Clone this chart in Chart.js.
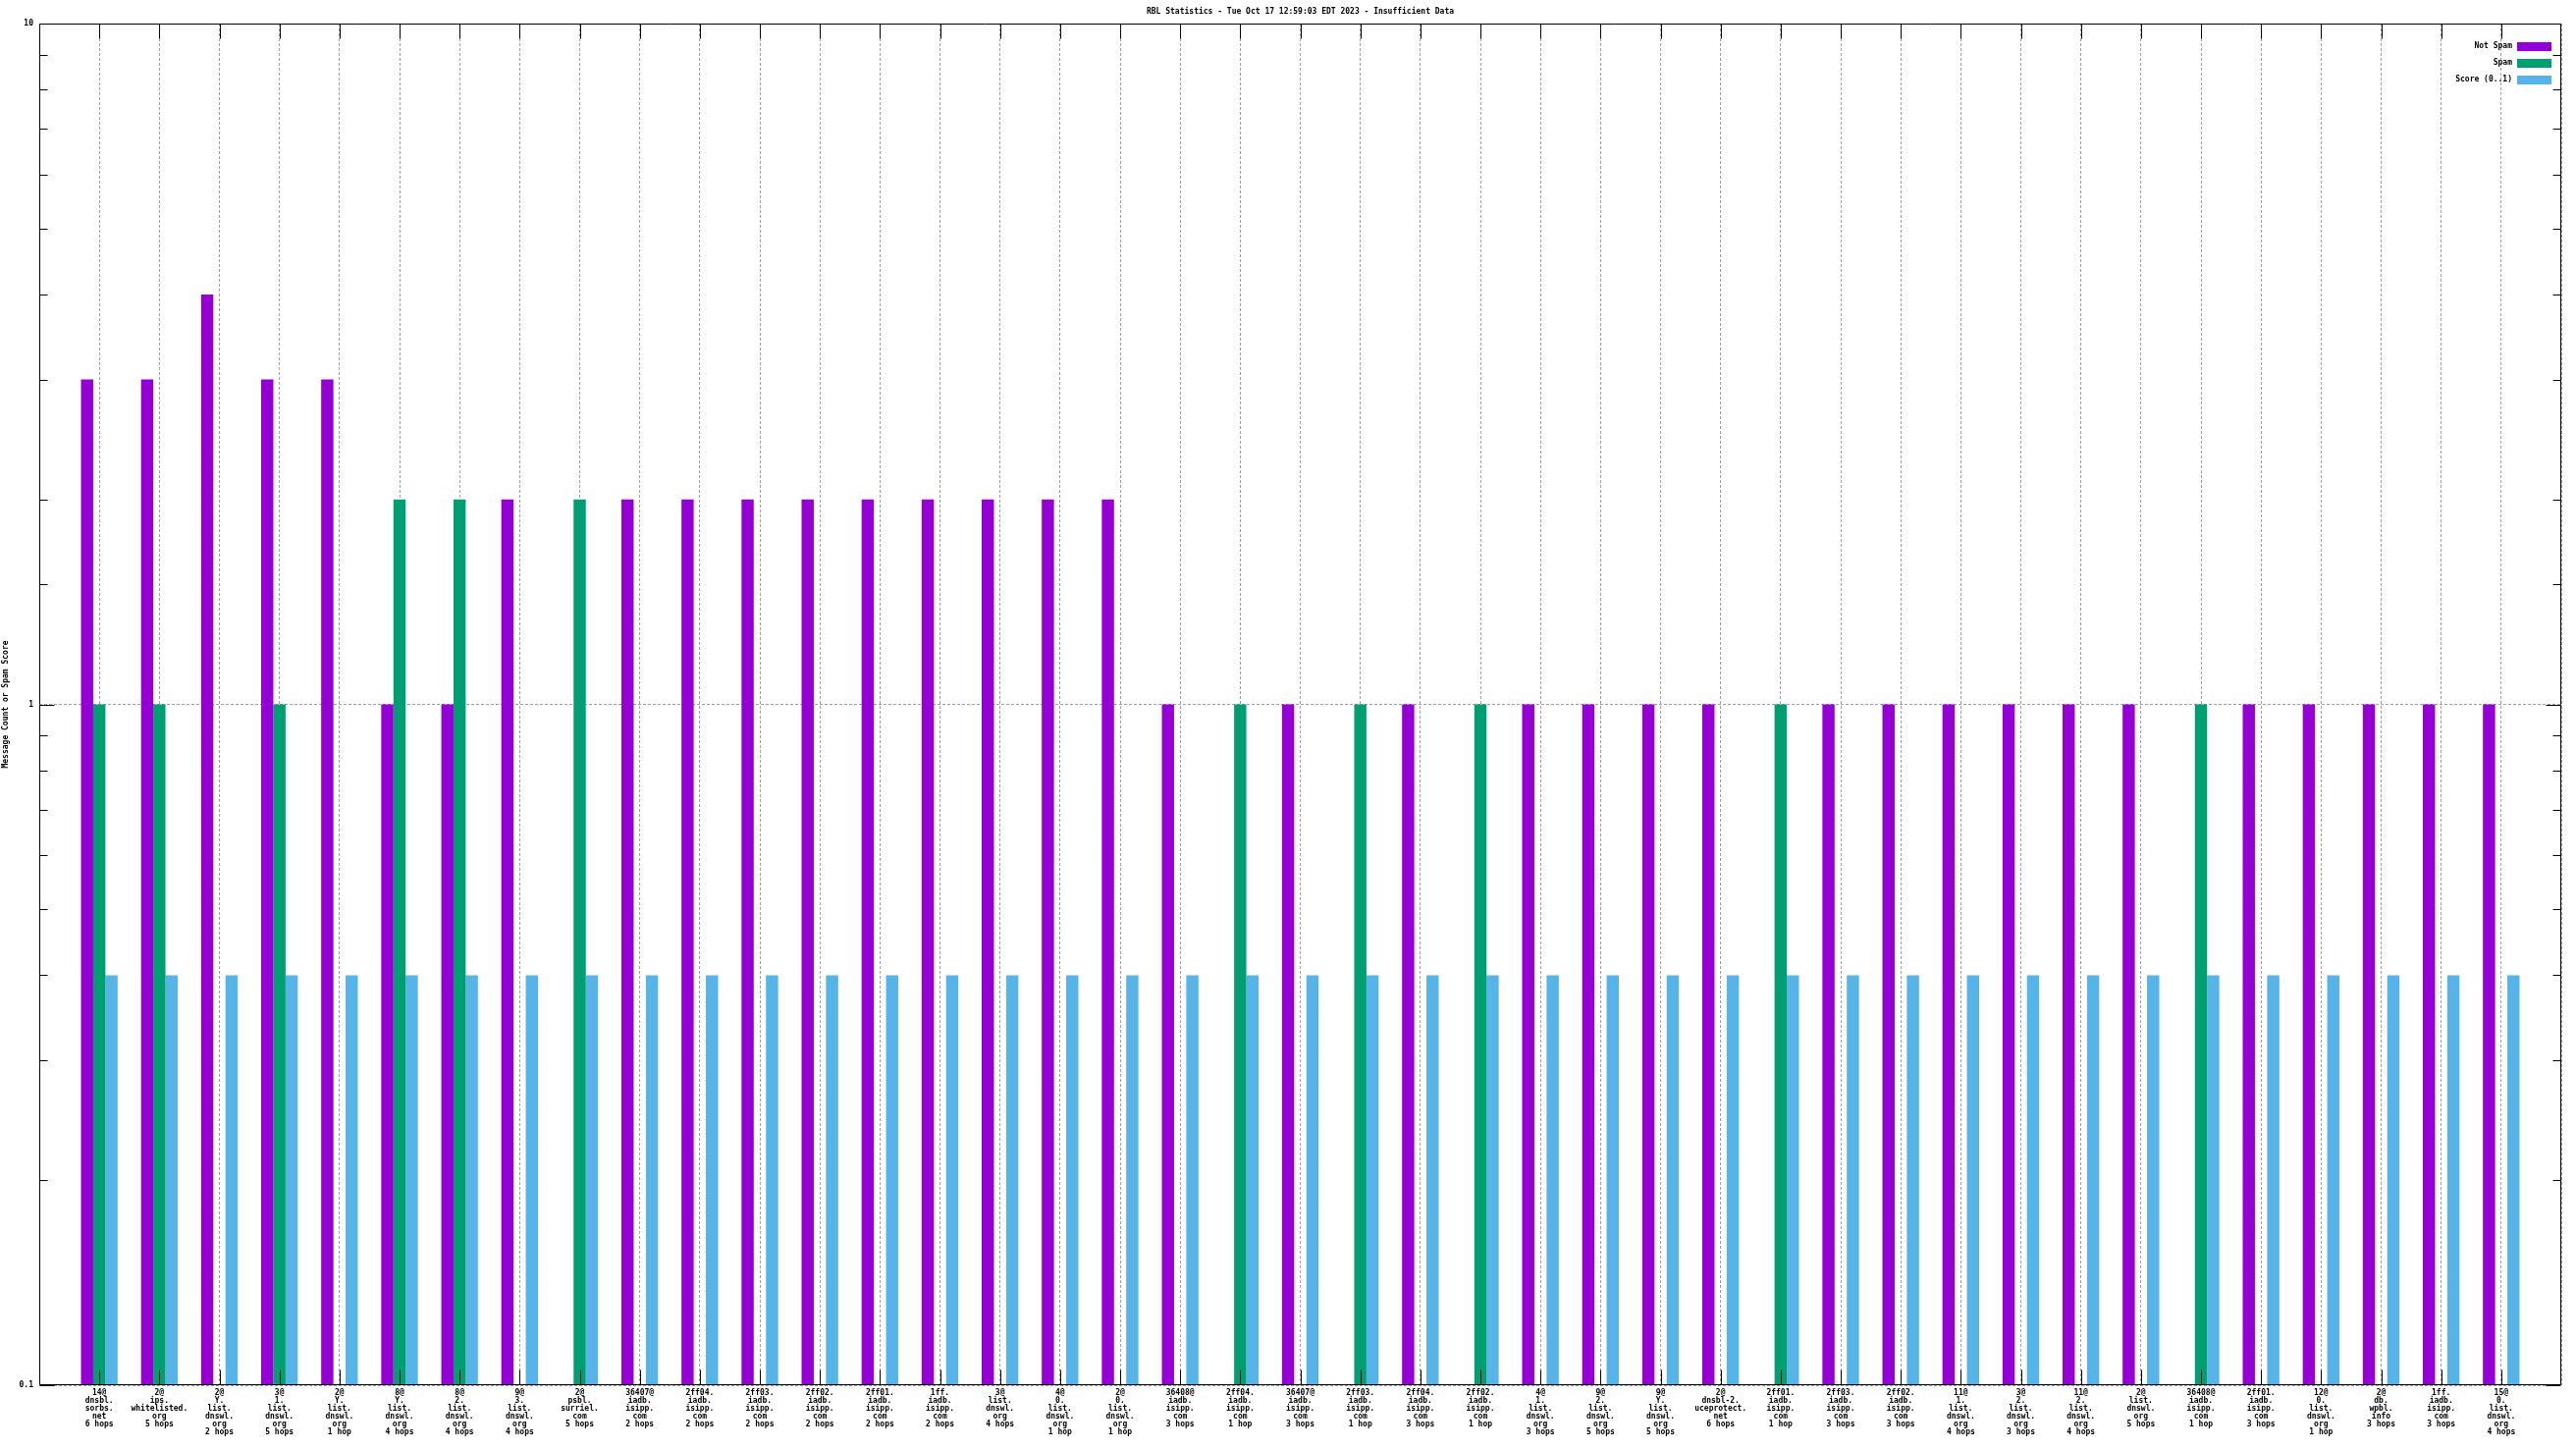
<!DOCTYPE html>
<html><head><meta charset="utf-8">
<script src="https://cdn.jsdelivr.net/npm/chart.js@4/dist/chart.umd.min.js"></script>
<style>html,body{margin:0;padding:0;background:#fff}canvas{display:block}</style>
</head><body>
<canvas id="c" width="2624" height="1476"></canvas>
<script>
const chartTitle = 'RBL Statistics - Tue Oct 17 12:59:03 EDT 2023 - Insufficient Data';
const yTitle = 'Message Count or Spam Score';
const seriesNames = ['Not Spam', 'Spam', 'Score (0..1)'];
const seriesColors = ['#9400d3', '#009e73', '#56b4e9'];
const yTickLabels = ['0.1', '1', '10'];
const categories = [
  "14@\ndnsbl.\nsorbs.\nnet\n6 hops",
  "2@\nips.\nwhitelisted.\norg\n5 hops",
  "2@\nY.\nlist.\ndnswl.\norg\n2 hops",
  "3@\n1.\nlist.\ndnswl.\norg\n5 hops",
  "2@\nY.\nlist.\ndnswl.\norg\n1 hop",
  "8@\nY.\nlist.\ndnswl.\norg\n4 hops",
  "8@\n2.\nlist.\ndnswl.\norg\n4 hops",
  "9@\n3.\nlist.\ndnswl.\norg\n4 hops",
  "2@\npsbl.\nsurriel.\ncom\n5 hops",
  "36407@\niadb.\nisipp.\ncom\n2 hops",
  "2ff04.\niadb.\nisipp.\ncom\n2 hops",
  "2ff03.\niadb.\nisipp.\ncom\n2 hops",
  "2ff02.\niadb.\nisipp.\ncom\n2 hops",
  "2ff01.\niadb.\nisipp.\ncom\n2 hops",
  "1ff.\niadb.\nisipp.\ncom\n2 hops",
  "3@\nlist.\ndnswl.\norg\n4 hops",
  "4@\n0.\nlist.\ndnswl.\norg\n1 hop",
  "2@\n0.\nlist.\ndnswl.\norg\n1 hop",
  "36408@\niadb.\nisipp.\ncom\n3 hops",
  "2ff04.\niadb.\nisipp.\ncom\n1 hop",
  "36407@\niadb.\nisipp.\ncom\n3 hops",
  "2ff03.\niadb.\nisipp.\ncom\n1 hop",
  "2ff04.\niadb.\nisipp.\ncom\n3 hops",
  "2ff02.\niadb.\nisipp.\ncom\n1 hop",
  "4@\n1.\nlist.\ndnswl.\norg\n3 hops",
  "9@\n2.\nlist.\ndnswl.\norg\n5 hops",
  "9@\nY.\nlist.\ndnswl.\norg\n5 hops",
  "2@\ndnsbl-2.\nuceprotect.\nnet\n6 hops",
  "2ff01.\niadb.\nisipp.\ncom\n1 hop",
  "2ff03.\niadb.\nisipp.\ncom\n3 hops",
  "2ff02.\niadb.\nisipp.\ncom\n3 hops",
  "11@\n1.\nlist.\ndnswl.\norg\n4 hops",
  "3@\n2.\nlist.\ndnswl.\norg\n3 hops",
  "11@\n2.\nlist.\ndnswl.\norg\n4 hops",
  "2@\nlist.\ndnswl.\norg\n5 hops",
  "36408@\niadb.\nisipp.\ncom\n1 hop",
  "2ff01.\niadb.\nisipp.\ncom\n3 hops",
  "12@\n0.\nlist.\ndnswl.\norg\n1 hop",
  "2@\ndb.\nwpbl.\ninfo\n3 hops",
  "1ff.\niadb.\nisipp.\ncom\n3 hops",
  "15@\n0.\nlist.\ndnswl.\norg\n4 hops"
];
const notSpam = [3,3,4,3,3,1,1,2,0,2,2,2,2,2,2,2,2,2,1,0,1,0,1,0,1,1,1,1,0,1,1,1,1,1,1,0,1,1,1,1,1];
const spam    = [1,1,0,1,0,2,2,0,2,0,0,0,0,0,0,0,0,0,0,1,0,1,0,1,0,0,0,0,1,0,0,0,0,0,0,1,0,0,0,0,0];
const score   = [0.4,0.4,0.4,0.4,0.4,0.4,0.4,0.4,0.4,0.4,0.4,0.4,0.4,0.4,0.4,0.4,0.4,0.4,0.4,0.4,0.4,
                 0.4,0.4,0.4,0.4,0.4,0.4,0.4,0.4,0.4,0.4,0.4,0.4,0.4,0.4,0.4,0.4,0.4,0.4,0.4,0.4];

const FONT = {family: "'DejaVu Sans Mono', 'Liberation Mono', monospace", size: 8, weight: 'bold', lineHeight: 1};
const FONT_CSS = "bold 8px 'DejaVu Sans Mono', 'Liberation Mono', monospace";
const GRID = '#a0a0a0';
const isPow10 = v => v > 0 && Math.abs(Math.log10(v) - Math.round(Math.log10(v))) < 1e-9;
const toPoints = arr => arr.map((v, i) => ({x: i, y: v > 0 ? v : null}));

const framePlugin = {
  id: 'frame',
  afterDraw(chart) {
    const ctx = chart.ctx, a = chart.chartArea;
    const xs = chart.scales.x, ys = chart.scales.y;
    const L = Math.round(a.left) + 0.5, R = Math.round(a.right) - 0.5;
    const T = Math.round(a.top) + 0.5, B = Math.round(a.bottom) - 0.5;
    ctx.save();
    ctx.strokeStyle = '#000';
    ctx.lineWidth = 1;
    ctx.setLineDash([]);
    ctx.beginPath();
    ctx.rect(L, T, R - L, B - T);
    for (let i = 0; i < categories.length; i++) {
      const x = Math.round(xs.getPixelForValue(i)) + 0.5;
      ctx.moveTo(x, B); ctx.lineTo(x, B - 15);
      ctx.moveTo(x, T); ctx.lineTo(x, T + 15);
    }
    ys.ticks.forEach(t => {
      const y = Math.round(ys.getPixelForValue(t.value)) + 0.5;
      const len = isPow10(t.value) ? 15 : 8;
      ctx.moveTo(L, y); ctx.lineTo(L + len, y);
      ctx.moveTo(R, y); ctx.lineTo(R - len, y);
    });
    ctx.stroke();
    // title
    ctx.fillStyle = '#000';
    ctx.font = FONT_CSS;
    ctx.textAlign = 'center';
    ctx.textBaseline = 'middle';
    ctx.fillText(chartTitle, (a.left + a.right) / 2, 12);
    // legend
    ctx.textAlign = 'right';
    chart.data.datasets.forEach((ds, k) => {
      const cy = 47 + k * 17;
      ctx.fillStyle = '#000';
      ctx.fillText(ds.label, a.right - 50, cy);
      ctx.fillStyle = ds.backgroundColor;
      ctx.fillRect(Math.round(a.right - 45), Math.round(cy - 4.5), 35, 9);
    });
    ctx.restore();
  }
};

new Chart(document.getElementById('c').getContext('2d'), {
  type: 'bar',
  data: {
    datasets: [
      {label: seriesNames[0], data: toPoints(notSpam), backgroundColor: seriesColors[0]},
      {label: seriesNames[1], data: toPoints(spam), backgroundColor: seriesColors[1]},
      {label: seriesNames[2], data: toPoints(score), backgroundColor: seriesColors[2]}
    ]
  },
  options: {
    responsive: false,
    animation: false,
    devicePixelRatio: 1,
    layout: {padding: {top: 24, right: 15, left: 0, bottom: 0}},
    datasets: {bar: {categoryPercentage: 0.61, barPercentage: 1.0, borderWidth: 0}},
    plugins: {legend: {display: false}, title: {display: false}, tooltip: {enabled: false}},
    scales: {
      x: {
        type: 'linear', min: -1, max: 41, offset: false,
        ticks: {
          stepSize: 1, maxTicksLimit: 100, autoSkip: false, maxRotation: 0, minRotation: 0,
          padding: 4, color: '#000', font: FONT,
          callback: (v) => {
            const i = Math.round(v);
            return (i >= 0 && i < categories.length && Math.abs(v - i) < 1e-6) ? categories[i].split('\n') : '';
          }
        },
        grid: {offset: false, color: GRID, lineWidth: 1, drawTicks: false, tickLength: 0},
        border: {display: false, dash: [3, 2]},
        afterFit: s => { s.height = 65; }
      },
      y: {
        type: 'logarithmic', min: 0.1, max: 10,
        ticks: {
          autoSkip: false, padding: 6, color: '#000', font: FONT,
          callback: (v) => {
            const lab = yTickLabels.find(l => Math.abs(parseFloat(l) - v) < 1e-9);
            return lab !== undefined ? lab : '';
          }
        },
        grid: {color: c => (c.tick && isPow10(c.tick.value)) ? GRID : 'rgba(0,0,0,0)', drawTicks: false, tickLength: 0},
        border: {display: false, dash: [3, 2]},
        title: {display: true, text: yTitle, color: '#000', font: FONT, padding: {top: 2, bottom: 0}},
        afterFit: s => { s.width = 40; }
      }
    }
  },
  plugins: [framePlugin]
});
</script>
</body></html>
